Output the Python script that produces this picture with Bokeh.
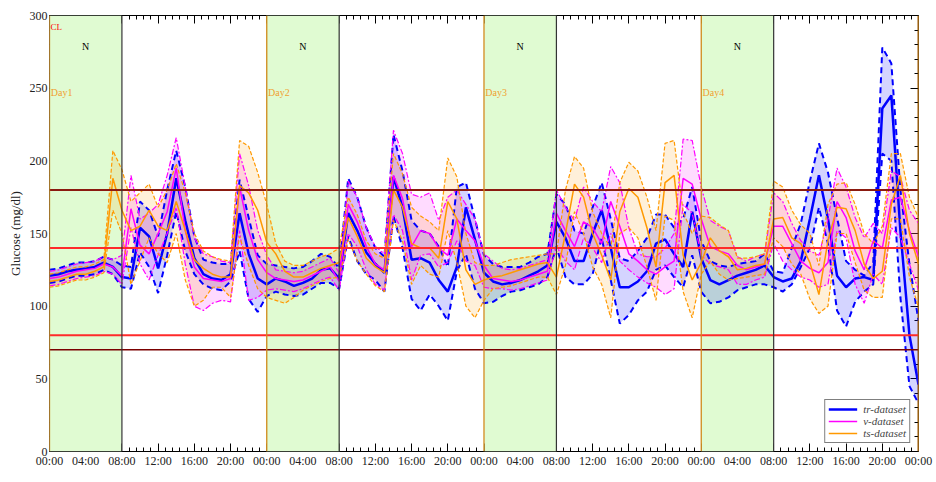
from bokeh.plotting import figure
from bokeh.models import (Range1d, LinearAxis, SingleIntervalTicker, Span, Label,
                          Legend, LegendItem, CustomJSTickFormatter)
from bokeh.embed import file_html
from bokeh.resources import INLINE

# ---------------- data ----------------
hours = list(range(97))

tr_mean = [121,122,124,125,126,127,130,127,120,
           119,154,148,126,150,188,159,133,122,119,118,122,
           164,136,119,115,119,117,114,116,119,125,126,119,164,152,137,129,123,
           189,168,132,133,130,118,110,127,168,146,123,117,115,116,118,121,124,128,
           158,147,131,131,150,166,140,113,113,117,124,143,146,136,127,165,133,118,115,118,
           121,123,125,128,120,117,119,131,160,190,160,121,113,119,120,118,236,245,152,80,46]
tr_hi = [125,126,128,130,130,131,134,132,128,
         127,172,166,148,180,207,182,148,132,130,129,129,
         187,161,135,129,128,127,126,127,131,136,134,126,188,175,154,140,134,
         218,193,159,152,150,141,127,182,185,160,135,129,127,127,127,130,134,136,
         177,170,152,150,168,185,160,133,131,138,147,163,163,154,160,182,145,131,128,127,
         129,130,131,136,124,123,140,157,186,212,192,161,131,125,121,130,278,267,180,129,90]
tr_lo = [116,117,119,121,121,122,125,122,113,
         112,137,127,109,135,165,138,122,115,112,111,117,
         138,105,96,107,110,108,107,108,112,116,116,112,148,131,122,118,110,
         162,140,105,97,108,100,90,124,136,112,102,103,107,110,111,113,115,120,
         141,120,115,115,122,147,118,88,94,104,110,125,128,120,113,135,110,102,103,106,
         111,113,115,115,113,110,115,127,140,168,143,97,86,103,110,115,205,200,106,45,33]

v_mean = [119,120,122,124,125,126,129,127,121,
          167,142,136,150,165,195,152,127,119,118,117,119,
          182,152,132,123,119,118,117,118,121,124,127,117,170,158,141,129,125,
          190,174,141,152,150,140,135,160,152,145,128,119,118,117,118,120,122,124,
          164,152,141,158,154,143,172,155,136,131,125,122,127,131,188,184,160,141,138,136,
          128,125,127,129,155,155,143,131,126,123,130,172,161,138,125,145,140,173,175,152,134]
v_hi = [124,125,127,129,130,131,134,132,135,
        190,160,164,170,190,216,182,147,136,134,131,130,
        205,183,152,135,125,124,123,124,127,130,133,123,186,175,154,141,136,
        221,205,177,175,178,159,175,180,170,160,136,131,126,125,126,128,130,132,
        180,168,159,182,172,165,196,185,154,136,134,134,140,150,215,214,182,159,155,152,
        134,131,134,136,178,172,157,145,138,135,160,195,182,161,147,157,150,193,189,166,157]
v_lo = [114,115,117,119,120,121,124,122,115,
        154,129,118,135,150,168,129,100,97,102,104,103,
        152,104,106,111,112,111,110,112,115,118,120,111,150,141,125,115,111,
        163,152,118,135,136,127,130,145,131,128,113,112,112,111,112,114,116,118,
        141,131,125,147,140,130,150,131,125,120,116,113,108,112,170,164,135,129,127,125,
        115,115,118,120,143,131,125,120,118,113,115,152,147,115,102,122,115,154,147,129,111]

ts_mean = [117,118,120,122,122,124,127,188,166,
           152,155,166,155,152,172,152,132,126,122,120,120,
           183,178,166,144,136,124,120,120,123,126,128,130,161,148,133,127,123,
           180,168,143,140,140,133,172,160,125,115,118,120,121,123,125,127,129,130,
           120,150,184,175,150,135,118,165,181,175,154,127,185,190,135,118,130,147,138,134,
           125,126,128,129,160,161,147,143,130,108,145,168,167,152,129,119,124,170,190,150,129]
ts_hi = [122,123,125,127,127,129,132,207,194,
         172,178,184,168,180,198,178,150,138,134,132,131,
         214,210,192,170,143,131,128,128,131,134,136,140,175,163,145,136,133,
         205,191,168,162,158,152,202,189,150,130,128,128,130,132,133,134,135,136,
         136,180,203,195,165,150,140,185,199,193,175,152,212,214,165,150,162,161,156,152,
         133,133,134,136,186,182,166,156,150,128,170,184,185,170,150,143,155,205,205,175,161]
ts_lo = [113,114,116,118,118,120,123,166,150,
         115,131,147,136,130,150,118,100,104,113,113,106,
         148,128,112,106,104,102,106,111,114,117,119,120,146,131,122,114,110,
         159,145,115,128,122,120,152,130,100,92,104,112,113,114,116,118,120,120,
         108,128,165,150,127,115,92,150,154,147,127,104,162,159,110,92,122,131,122,118,
         119,120,121,122,147,141,129,122,105,95,100,150,150,130,111,106,106,160,160,120,99]

day_starts = [0, 24, 48, 72, 96]
day_labels = ["Day1", "Day2", "Day3", "Day4", "Day5"]
night_start = [0, 24, 48, 72]
night_end = [8, 32, 56, 80]
x_tick_hours = list(range(0, 97, 4))
x_tick_labels = ["00:00", "04:00", "08:00", "12:00", "16:00", "20:00"] * 4 + ["00:00"]
limit_levels = [180, 140, 80, 70]
series_names = ["tr-dataset", "v-dataset", "ts-dataset"]

# ---------------- style ----------------
FONT = "Liberation Serif"
BLUE, MAGENTA, ORANGE = "#0000ff", "#ff00ff", "#ff9900"
limit_colors = ["#8b1a10", "#ff2a2a", "#ff2a2a", "#7a0000"]
limit_widths = [2, 2, 2, 1.5]
BROWN = "#a0621c"

p = figure(width=936, height=482, x_range=Range1d(0, 96), y_range=Range1d(0, 300),
           output_backend="svg", toolbar_location=None,
           min_border_left=49, min_border_right=18, min_border_top=15, min_border_bottom=31)
p.xgrid.visible = False
p.ygrid.visible = False
p.outline_line_color = "black"
p.background_fill_color = "white"
p.border_fill_color = "white"

EMPTY = CustomJSTickFormatter(code="return ''")

def tick_axis(ax, ticker, line_color="black", line_width=1):
    # ticks only, drawn beneath the night strips
    ax.ticker = ticker
    ax.level = "underlay"
    ax.formatter = EMPTY
    ax.major_tick_in = 8
    ax.major_tick_out = 0
    ax.minor_tick_in = 4
    ax.minor_tick_out = 0
    ax.major_label_standoff = 0
    ax.major_tick_line_color = "black"
    ax.minor_tick_line_color = "black"
    ax.axis_line_color = line_color
    ax.axis_line_width = line_width

def label_axis(ax, ticker, title, label_standoff, title_standoff):
    ax.ticker = ticker
    ax.major_tick_in = 0
    ax.major_tick_out = 0
    ax.minor_tick_in = 0
    ax.minor_tick_out = 0
    ax.major_tick_line_color = None
    ax.minor_tick_line_color = None
    ax.axis_line_color = None
    ax.major_label_text_font = FONT
    ax.major_label_text_font_size = "12px"
    ax.major_label_text_color = "#222222"
    ax.major_label_standoff = label_standoff
    if title:
        ax.axis_label = title
    ax.axis_label_text_font = FONT
    ax.axis_label_text_font_style = "normal"
    ax.axis_label_text_font_size = "13px"
    ax.axis_label_text_color = "#222222"
    ax.axis_label_standoff = title_standoff

overrides = {h: lab for h, lab in zip(x_tick_hours, x_tick_labels)}

# bottom: tick axis next to frame, label axis below it
tick_axis(p.xaxis[0], SingleIntervalTicker(interval=4, num_minor_ticks=5))
xlab = LinearAxis()
label_axis(xlab, SingleIntervalTicker(interval=4, num_minor_ticks=0), None, 2, 0)
xlab.major_label_overrides = overrides
p.add_layout(xlab, "below")

# left
tick_axis(p.yaxis[0], SingleIntervalTicker(interval=50, num_minor_ticks=5), BROWN, 2)
ylab = LinearAxis()
label_axis(ylab, SingleIntervalTicker(interval=50, num_minor_ticks=0), "Glucose (mg/dl)", 2, 4)
p.add_layout(ylab, "left")

# top and right: ticks only
top = LinearAxis()
tick_axis(top, SingleIntervalTicker(interval=4, num_minor_ticks=5))
p.add_layout(top, "above")
right = LinearAxis()
tick_axis(right, SingleIntervalTicker(interval=50, num_minor_ticks=5), BROWN, 2)
p.add_layout(right, "right")

# night strips
p.vstrip(x0=night_start, x1=night_end, fill_color="#e0fbd2", line_color=None)

# bands
p.varea(x=hours, y1=tr_lo, y2=tr_hi, fill_color=BLUE, fill_alpha=0.17)
p.varea(x=hours, y1=v_lo, y2=v_hi, fill_color=MAGENTA, fill_alpha=0.14)
p.varea(x=hours, y1=ts_lo, y2=ts_hi, fill_color=ORANGE, fill_alpha=0.15)

# lines
r_tr = p.line(hours, tr_mean, line_color=BLUE, line_width=2.5)
p.line(hours, tr_hi, line_color=BLUE, line_width=2, line_dash="6 4")
p.line(hours, tr_lo, line_color=BLUE, line_width=2, line_dash="6 4")
r_v = p.line(hours, v_mean, line_color=MAGENTA, line_width=1.5)
p.line(hours, v_hi, line_color=MAGENTA, line_width=1.2, line_dash="6 2 2 2")
p.line(hours, v_lo, line_color=MAGENTA, line_width=1.2, line_dash="6 2 2 2")
r_ts = p.line(hours, ts_mean, line_color=ORANGE, line_width=1.5)
p.line(hours, ts_hi, line_color=ORANGE, line_width=1.2, line_dash="4 2")
p.line(hours, ts_lo, line_color=ORANGE, line_width=1.2, line_dash="4 2")

# limit lines
for lv, c, w in zip(limit_levels, limit_colors, limit_widths):
    p.add_layout(Span(location=lv, dimension="width", line_color=c, line_width=w))

# day / night boundaries
for d in day_starts:
    p.add_layout(Span(location=d, dimension="height", line_color="#d08a1a", line_width=1.3))
for e in night_end:
    p.add_layout(Span(location=e, dimension="height", line_color="#333333", line_width=1.2))

# texts
for d, lab in zip(day_starts, day_labels):
    p.add_layout(Label(x=d + 0.15, y=247, text=lab, text_font=FONT, text_font_size="10px",
                       text_color="#f0a030", text_baseline="middle"))
for s, e in zip(night_start, night_end):
    p.add_layout(Label(x=(s + e) / 2, y=279, text="N", text_font=FONT, text_font_size="10px",
                       text_color="black", text_align="center", text_baseline="middle"))
p.add_layout(Label(x=0.1, y=292, text="CL", text_font=FONT, text_font_size="9px",
                   text_color="#ff0000", text_baseline="middle"))
# x-axis title, placed below the tick labels
p.add_layout(Label(x=48, y=-15.5, text="Time (h)", text_font=FONT, text_font_size="13px",
                   text_color="#222222", text_align="center", text_baseline="middle"))

legend = Legend(items=[LegendItem(label=series_names[0], renderers=[r_tr]),
                       LegendItem(label=series_names[1], renderers=[r_v]),
                       LegendItem(label=series_names[2], renderers=[r_ts])],
                location="bottom_right", label_text_font=FONT, label_text_font_style="italic",
                label_text_font_size="11px", border_line_color="black", border_line_width=1,
                glyph_width=29, glyph_height=12, label_height=12, label_standoff=6,
                padding=3, spacing=0, margin=8, background_fill_alpha=1)
p.add_layout(legend)

open("out.html", "w").write(file_html(p, INLINE))
